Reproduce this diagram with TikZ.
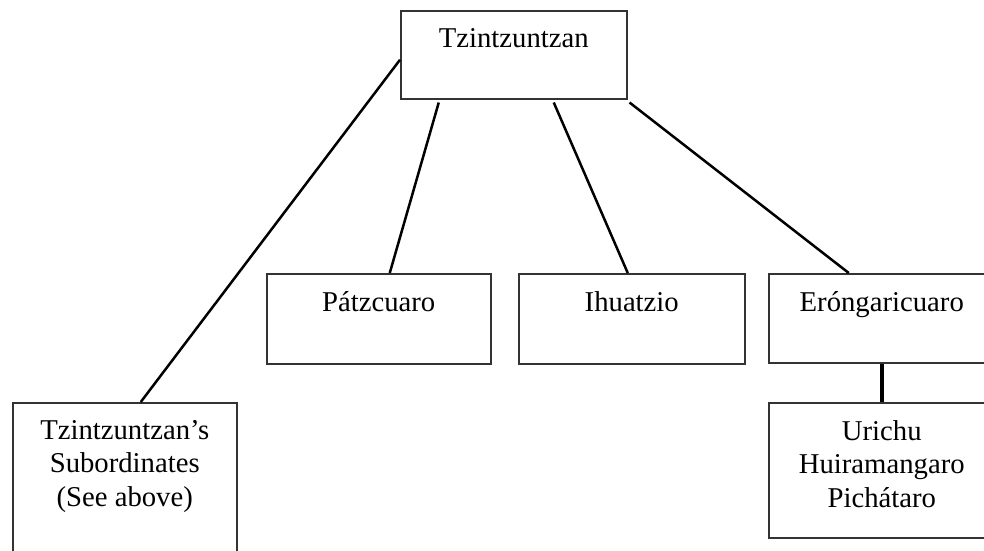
\documentclass[tikz,border=0pt]{standalone}
\usepackage{fontspec}
\setmainfont{Liberation Serif}
\begin{document}
\begin{tikzpicture}[x=1pt,y=-1pt,
  box/.style={draw=black!80, line width=1.5pt, minimum width=226pt, minimum height=90pt, inner sep=0pt, anchor=north west},
  lbl/.style={anchor=north, inner sep=0pt, align=center, font=\fontsize{28.7}{33.5}\selectfont},
  link/.style={line width=2.5pt, draw=black}]
\useasboundingbox (0,0) rectangle (984,550);
\clip (0,0) rectangle (984,550);
\node[box, minimum height=88pt] (top) at (400,10) {};
\node[box, minimum width=224pt] (pat) at (266,273) {};
\node[box] (ihu) at (518,273) {};
\node[box, minimum height=89pt] (ero) at (768,273) {};
\node[box, minimum height=135pt] (uri) at (768,402) {};
\node[box, minimum width=224pt, minimum height=170pt] (sub) at (12,402) {};
\node[lbl] (toplbl) at ([yshift=-18pt]top.north) {Tzintzuntzan};
\node[lbl] (patlbl) at ([yshift=-18pt]pat.north) {Pátzcuaro};
\node[lbl] (ihulbl) at ([yshift=-18pt]ihu.north) {Ihuatzio};
\node[lbl] (erolbl) at ([yshift=-18pt]ero.north) {Eróngaricuaro};
\node[lbl] (urilbl) at ([yshift=-18pt]uri.north) {Urichu\\Huiramangaro\\Pichátaro};
\node[lbl] (sublbl) at ([yshift=-18pt]sub.north) {Tzintzuntzan’s\\Subordinates\\(See above)};
\draw[link] ([yshift=-5pt]top.west) -- ([xshift=16pt]sub.north);
\draw[link] ([xshift=-75pt,yshift=-3pt]top.south) -- ([xshift=11pt]pat.north);
\draw[link] ([xshift=40pt,yshift=-3pt]top.south) -- ([xshift=-4pt]ihu.north);
\draw[link] ([xshift=2pt,yshift=-3pt]top.south east) -- ([xshift=-33pt]ero.north);
\draw[link, line width=3.5pt] (ero.south) -- (uri.north);
\end{tikzpicture}
\end{document}
